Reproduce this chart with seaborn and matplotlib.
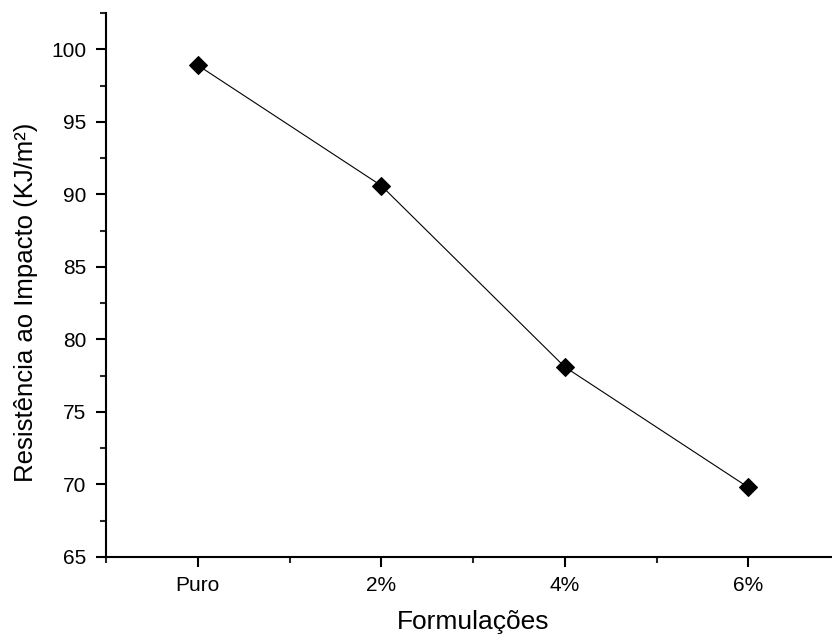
import matplotlib
matplotlib.use("Agg")
import matplotlib.pyplot as plt
from matplotlib.ticker import MultipleLocator
import seaborn as sns
import pandas as pd

# dados
formulacoes = ["Puro", "2%", "4%", "6%"]
resistencia = [98.9, 90.6, 78.1, 69.8]

sns.set_style("ticks")
plt.rcParams["font.family"] = ["Liberation Sans", "DejaVu Sans"]
plt.rcParams["text.color"] = "black"
plt.rcParams["axes.labelcolor"] = "black"

df = pd.DataFrame({"Formulações": formulacoes, "Resistência": resistencia})

fig = plt.figure(figsize=(8.32, 6.4), dpi=100)
ax = fig.add_axes([106 / 832, 83 / 640, 726 / 832, 544 / 640])

sns.lineplot(data=df, x="Formulações", y="Resistência", ax=ax,
             color="black", linewidth=0.8, marker="D", markersize=9,
             markeredgecolor="black", markerfacecolor="black")

ax.set_xlim(-0.5, 3.456)
ax.set_ylim(65, 102.5)
ax.set_xticks(range(len(formulacoes)))
ax.set_xticklabels(formulacoes)
ax.xaxis.set_minor_locator(MultipleLocator(0.5))
ax.yaxis.set_major_locator(MultipleLocator(5))
ax.yaxis.set_minor_locator(MultipleLocator(2.5))

for s in ["top", "right"]:
    ax.spines[s].set_visible(False)
for s in ["left", "bottom"]:
    ax.spines[s].set_linewidth(1.5)
    ax.spines[s].set_color("black")

ax.tick_params(which="major", direction="out", length=7, width=1.5,
               labelsize=15, colors="black", pad=7)
ax.tick_params(which="minor", direction="out", length=4, width=1.5)

ax.set_xlabel("Formulações", fontsize=19)
ax.set_ylabel("Resistência ao Impacto (KJ/m²)", fontsize=18.5)
ax.xaxis.set_label_coords((473 - 106) / 726, -53 / 544)
ax.yaxis.set_label_coords((38 - 106) / 726, (557 - 302) / 544)

fig.savefig("out.png", dpi=100)
